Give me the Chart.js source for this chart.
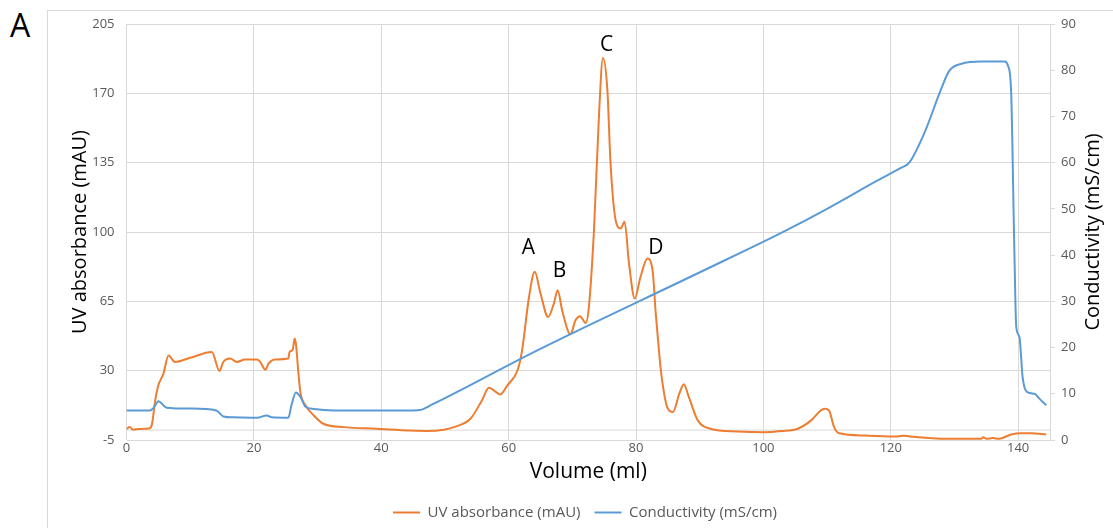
<!DOCTYPE html>
<html>
<head>
<meta charset="utf-8">
<script src="https://cdn.jsdelivr.net/npm/chart.js@4.4.1/dist/chart.umd.min.js"></script>
<style>
  body { margin: 0; background: #fff; }
  #wrap { position: relative; width: 1113px; height: 528px; overflow: hidden; }
  #frame { position: absolute; left: 47px; top: 10px; width: 1100px; height: 540px; border: 1px solid #d9d9d9; }
  #panel { position: absolute; left: 10px; top: 3px; font: 32px "Open Sans", sans-serif; color: #000; }
  #chart { position: absolute; left: 0; top: 0; }
</style>
</head>
<body>
<div id="wrap">
  <div id="frame"></div>
  <div id="panel">A</div>
  <canvas id="chart" width="1113" height="528"></canvas>
</div>
<script>
// UV trace (volume in ml, absorbance in mAU)
const uvVolume = [0, 0.5, 1, 2, 3.5, 4.0, 4.5, 5.0, 5.8, 6.6, 7.6, 10, 13.4, 14.6, 15.2, 16.3, 17.3, 18.6, 20.5, 21,
  21.8, 22.3, 23.3, 25.4, 25.6, 26.1, 26.4, 26.6, 27.0, 27.3, 28.1, 29.4, 30.9, 34.1, 39.3, 44.6, 47.2, 49.8, 51.4,
  54.0, 55.8, 56.9, 58.7, 59.8, 61.4, 62.1, 63.2, 64.1, 65.0, 66.2, 67.1, 67.7, 68.4, 69.7, 70.5, 71.2, 72.1, 72.6,
  73.4, 74.2, 74.8, 75.5, 76.0, 76.8, 77.6, 78.2, 78.9, 79.8, 80.7, 81.8, 82.6, 83.1, 83.6, 83.9, 84.9, 85.8, 86.8,
  87.5, 88.3, 89.7, 91.7, 95.9, 100.1, 102.8, 105.4, 107.5, 109.0, 109.6, 110.3, 111.1, 111.9, 115.8, 121.1, 122,
  123, 129, 134.2, 134.5, 135, 136, 137, 138.9, 140.5, 142.1, 144.4];
const uvValues = [0.5, 1.5, 0.3, 0.6, 0.8, 3, 15, 22.6, 28.5, 37.7, 34.4, 36.5, 39.4, 29.8, 34.4, 36.1, 34.4, 35.6, 35.6, 34.4,
  30.5, 33.5, 35.6, 36.1, 39.4, 40.6, 46.2, 43.6, 28.5, 19.2, 12.5, 7.4, 3.2, 1.5, 0.7, -0.2, -0.4, 0.2, 1.5,
  5.7, 15.0, 21.4, 18.0, 22.6, 30.2, 40, 67.2, 79.9, 69.0, 57.1, 63.9, 70.6, 60.5, 48.4, 55.4, 57.5, 54.1, 62.2,
  101, 160, 187.8, 171.8, 134.7, 106, 101.8, 105.2, 84.1, 66.4, 77.3, 86.6, 80.7, 58.8, 40.3, 30.2, 11.6, 9.1, 18.4,
  23.1, 16.6, 4.9, 0.7, -0.7, -1.1, -0.5, 0.7, 4.9, 9.9, 10.8, 9.9, 1.5, -1.6, -2.7, -3.2, -2.8,
  -3.2, -4.4, -4.4, -3.6, -4.4, -4.0, -4.4, -2.2, -1.6, -1.6, -2.2];

// Conductivity trace (volume in ml, mS/cm)
const condVolume = [0, 3.7, 4.3, 5.0, 6.3, 10, 14.1, 15.2, 16.8, 20.5, 22.0, 22.8, 25.4, 25.9, 26.6, 27.3, 28.1, 29.4,
  32.5, 45, 46.1, 48, 64.5, 90.2, 102.8, 110, 118, 121.5, 122.9, 125.3, 127.9, 129.2, 131.1, 134.2, 137.9, 138.4,
  138.9, 139.4, 139.7, 140.2, 140.7, 141.5, 142.6, 143.3, 144.4];
const condValues = [6.4, 6.4, 7.0, 8.4, 7.0, 6.8, 6.4, 5.1, 4.9, 4.8, 5.3, 4.9, 4.8, 7.5, 10.3, 9.3, 7.2, 6.7,
  6.4, 6.4, 6.5, 7.7, 19.4, 36.4, 44.8, 50.0, 56.2, 58.8, 60.0, 66.5, 75.9, 79.9, 81.4, 81.9, 81.9, 81.0,
  75.2, 41.2, 24.5, 22.3, 13.6, 10.3, 10.0, 9.0, 7.5];

// axis ticks
const volumeTicks = [0, 20, 40, 60, 80, 100, 120, 140];
const uvTicks = [-5, 30, 65, 100, 135, 170, 205];
const condTicks = [0, 10, 20, 30, 40, 50, 60, 70, 80, 90];

// peak labels
const peakNames = ['A', 'B', 'C', 'D'];
const peakVolume = [63.1, 68.0, 75.4, 83.1];
const peakHeight = [91.7, 80.4, 194.6, 91.7];

const FONT = '"Open Sans", sans-serif';

function toPoints(xs, ys) {
    return xs.map((x, i) => ({ x: x, y: ys[i] }));
}

function setTicks(list) {
    return function(scale) {
        scale.ticks = list.map(v => ({ value: v }));
    };
}

// extra drawing: zero line, peak letters, right axis title
const extras = {
    id: 'extras',
    beforeDatasetsDraw(chart) {
        const ctx = chart.ctx;
        const area = chart.chartArea;
        const y0 = chart.scales.y.getPixelForValue(0);
        ctx.save();
        ctx.strokeStyle = '#d9d9d9';
        ctx.lineWidth = 1;
        ctx.beginPath();
        ctx.moveTo(area.left, y0);
        ctx.lineTo(area.right, y0);
        ctx.stroke();
        ctx.restore();
    },
    afterDatasetsDraw(chart) {
        const ctx = chart.ctx;
        ctx.save();
        ctx.font = '21px ' + FONT;
        ctx.fillStyle = '#000';
        ctx.textAlign = 'center';
        ctx.textBaseline = 'middle';
        peakNames.forEach((name, i) => {
            ctx.fillText(name, chart.scales.x.getPixelForValue(peakVolume[i]),
                chart.scales.y.getPixelForValue(peakHeight[i]));
        });
        ctx.restore();
    },
    afterDraw(chart) {
        const ctx = chart.ctx;
        const area = chart.chartArea;
        ctx.save();
        ctx.translate(1093, (area.top + area.bottom) / 2);
        ctx.rotate(-Math.PI / 2);
        ctx.font = '20px ' + FONT;
        ctx.fillStyle = '#000';
        ctx.textAlign = 'center';
        ctx.textBaseline = 'middle';
        ctx.fillText('Conductivity (mS/cm)', 0, 0);
        ctx.restore();
    }
};

const ctx = document.getElementById('chart').getContext('2d');
const chart = new Chart(ctx, {
    type: 'line',
    data: {
        datasets: [{
            label: 'UV absorbance (mAU)',
            data: toPoints(uvVolume, uvValues),
            yAxisID: 'y',
            borderColor: '#ED7D31',
            backgroundColor: '#ED7D31',
            borderWidth: 2,
            pointRadius: 0,
            cubicInterpolationMode: 'monotone',
            order: 1
        }, {
            label: 'Conductivity (mS/cm)',
            data: toPoints(condVolume, condValues),
            yAxisID: 'y1',
            borderColor: '#5B9BD5',
            backgroundColor: '#5B9BD5',
            borderWidth: 2,
            pointRadius: 0,
            cubicInterpolationMode: 'monotone',
            order: 0
        }]
    },
    options: {
        responsive: false,
        animation: false,
        // left padding keeps the legend centred under the plot like the original
        layout: { padding: { top: 24, bottom: -2, left: 57, right: 0 } },
        plugins: {
            tooltip: { enabled: false },
            legend: {
                position: 'bottom',
                labels: {
                    usePointStyle: true,
                    pointStyle: 'line',
                    pointStyleWidth: 27,
                    font: { family: FONT, size: 15 },
                    color: '#595959',
                    padding: 14,
                    sort: (a, b) => a.datasetIndex - b.datasetIndex
                }
            }
        },
        scales: {
            x: {
                type: 'linear',
                min: 0,
                max: 145,
                afterBuildTicks: setTicks(volumeTicks),
                afterFit: s => { s.height = 51; },
                grid: { color: '#d9d9d9', drawTicks: false },
                border: { display: false },
                ticks: { font: { family: FONT, size: 13 }, color: '#595959', padding: 0 },
                title: {
                    display: true,
                    text: 'Volume (ml)',
                    font: { family: FONT, size: 21 },
                    color: '#000',
                    padding: { top: 0, bottom: 6 }
                }
            },
            y: {
                position: 'left',
                min: -5,
                max: 205,
                afterBuildTicks: setTicks(uvTicks),
                afterFit: s => { s.width = 69.5; },
                grid: { color: '#d9d9d9', drawTicks: false },
                border: { display: false },
                ticks: { font: { family: FONT, size: 13 }, color: '#595959', padding: 12 },
                title: {
                    display: true,
                    text: 'UV absorbance (mAU)',
                    font: { family: FONT, size: 20 },
                    color: '#000',
                    padding: { top: 11, bottom: 0 }
                }
            },
            y1: {
                position: 'right',
                min: 0,
                max: 90,
                afterBuildTicks: setTicks(condTicks),
                afterFit: s => { s.width = 63; },
                grid: { drawOnChartArea: false, color: '#d9d9d9', tickLength: 5 },
                border: { display: true, color: '#d9d9d9' },
                ticks: { font: { family: FONT, size: 13 }, color: '#595959', padding: 6 }
            }
        }
    },
    plugins: [extras]
});
</script>
</body>
</html>
